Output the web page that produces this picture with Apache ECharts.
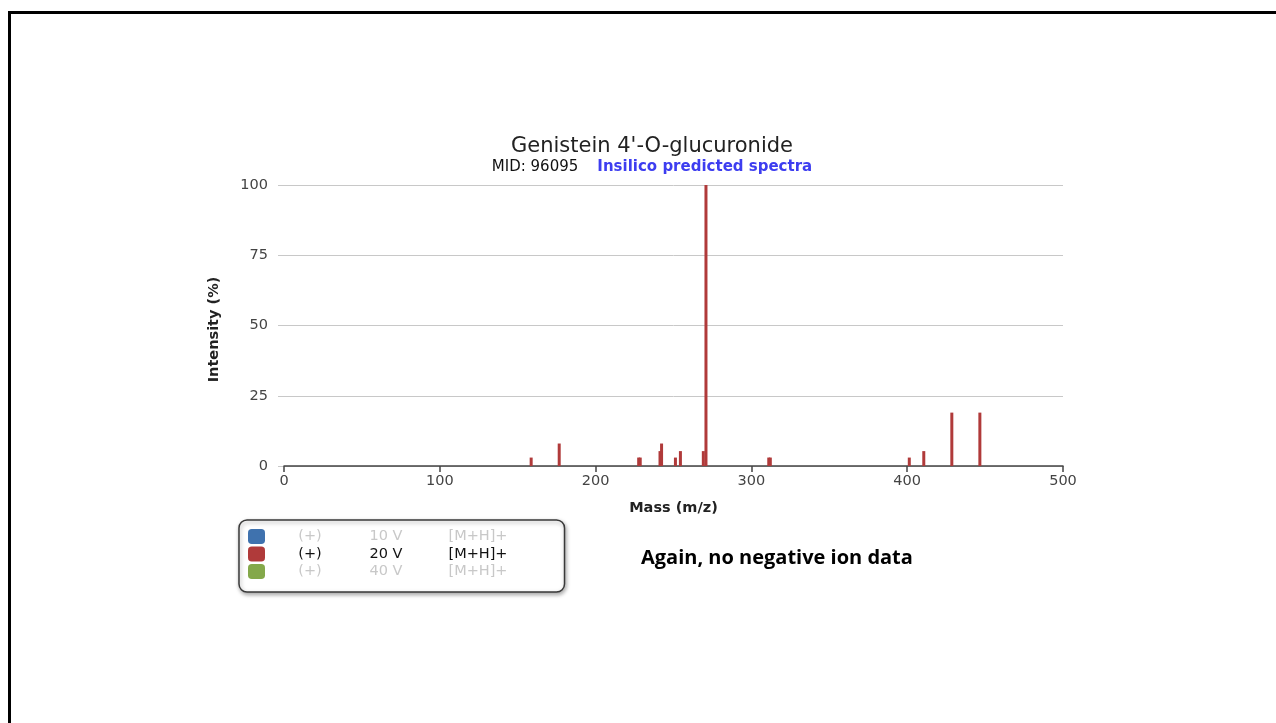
<!DOCTYPE html>
<html>
<head>
<meta charset="utf-8">
<script src="https://cdn.jsdelivr.net/npm/echarts@6/dist/echarts.min.js"></script>
<style>
html,body{margin:0;padding:0;background:#fff;}
#frame{position:absolute;left:8px;top:11px;width:1268px;height:712px;border-top:3px solid #000;border-left:3px solid #000;box-sizing:border-box;}
#chart{position:absolute;left:0;top:0;width:1276px;height:723px;}
</style>
</head>
<body>
<div id="frame"></div>
<div id="chart"></div>
<script>
// Data
const massValues = [158, 176, 227, 228, 240.7, 241.7, 250.6, 253.8, 268.5, 270.2, 310.5, 311.5, 400.7, 410, 428, 446];
const intensity20V = [3, 8, 3, 3, 5.3, 8, 3, 5.3, 5.3, 100, 3, 3, 3, 5.3, 19, 19];
const xTicks = [0, 100, 200, 300, 400, 500];
const yTicks = [0, 25, 50, 75, 100];
const legendNames = ['10 V', '20 V', '40 V'];
const legendActive = [false, true, false];
const legendColors = ['#3f72ae', '#b03a3a', '#84a84a'];

const peaks = massValues.map((m, i) => [m, intensity20V[i]]);

const chart = echarts.init(document.getElementById('chart'));
const option = {
  animation: false,
  textStyle: { fontFamily: 'DejaVu Sans' },
  title: {
    text: "Genistein 4'-O-glucuronide",
    subtext: '{a|MID: 96095}     {b|Insilico predicted spectra}',
    left: 647,
    textAlign: 'center',
    top: 131,
    itemGap: 3,
    textStyle: { fontFamily: 'DejaVu Sans', fontSize: 21, fontWeight: 'normal', color: '#222' },
    subtextStyle: {
      rich: {
        a: { fontFamily: 'DejaVu Sans', fontSize: 15, color: '#111' },
        b: { fontFamily: 'DejaVu Sans', fontSize: 15, fontWeight: 'bold', color: '#3d3df0' }
      }
    }
  },
  grid: { left: 284, right: 213, top: 185, bottom: 257, containLabel: false },
  xAxis: {
    type: 'value',
    min: 0, max: 500, interval: 100,
    name: 'Mass (m/z)',
    nameLocation: 'middle',
    nameGap: 35,
    nameTextStyle: { fontFamily: 'DejaVu Sans', fontSize: 14.5, fontWeight: 'bold', color: '#222' },
    axisLine: { show: true, onZero: false, lineStyle: { color: '#444', width: 1.5 } },
    axisTick: { show: true, length: 6, lineStyle: { color: '#444', width: 1.5 } },
    axisLabel: { fontSize: 14.5, color: '#444', margin: 8, formatter: v => xTicks.includes(v) ? String(v) : '' },
    splitLine: { show: false }
  },
  yAxis: {
    type: 'value',
    min: 0, max: 100, interval: 25,
    name: 'Intensity (%)',
    nameLocation: 'middle',
    nameGap: 62,
    nameTextStyle: { fontFamily: 'DejaVu Sans', fontSize: 14.5, fontWeight: 'bold', color: '#222', padding: [0, 0, 0, -8] },
    axisLine: { show: false },
    axisTick: { show: true, length: 6, lineStyle: { color: '#c8c8c8', width: 1 } },
    axisLabel: { fontSize: 14.5, color: '#444', margin: 16, formatter: v => yTicks.includes(v) ? String(v) : '' },
    splitLine: { show: true, lineStyle: { color: '#c8c8c8', width: 1 } }
  },
  legend: {
    orient: 'vertical',
    left: 239,
    top: 520,
    padding: [9, 57, 13, 9],
    itemWidth: 17,
    itemHeight: 15,
    itemGap: 2.5,
    icon: 'roundRect',
    selectedMode: false,
    backgroundColor: '#fff',
    borderColor: '#3a3a3a',
    borderWidth: 1.5,
    borderRadius: 8,
    shadowColor: 'rgba(0,0,0,0.35)',
    shadowBlur: 4,
    shadowOffsetX: 1,
    shadowOffsetY: 2,
    data: legendNames.map((n, i) => ({
      name: n,
      textStyle: { color: legendActive[i] ? '#111' : '#c8c8c8' }
    })),
    formatter: n => '{a|(+)}{b|' + n + '}{c|[M+H]+}',
    textStyle: {
      fontFamily: 'DejaVu Sans',
      fontSize: 14.5,
      rich: {
        a: { width: 80, align: 'center', fontSize: 14.5 },
        b: { width: 72, align: 'center', fontSize: 14.5 },
        c: { width: 112, align: 'center', fontSize: 14.5 }
      }
    }
  },
  graphic: [{
    type: 'text',
    left: 641,
    top: 548,
    style: {
      text: 'Again, no negative ion data',
      font: 'bold 20px "Open Sans"',
      fill: '#000'
    }
  }],
  series: [
    { name: legendNames[0], type: 'bar', data: [], itemStyle: { color: legendColors[0] } },
    {
      name: legendNames[1], type: 'bar', data: peaks, barWidth: 3, barGap: '-100%',
      itemStyle: { color: legendColors[1] }
    },
    { name: legendNames[2], type: 'bar', data: [], itemStyle: { color: legendColors[2] } }
  ]
};
chart.setOption(option);
</script>
</body>
</html>
